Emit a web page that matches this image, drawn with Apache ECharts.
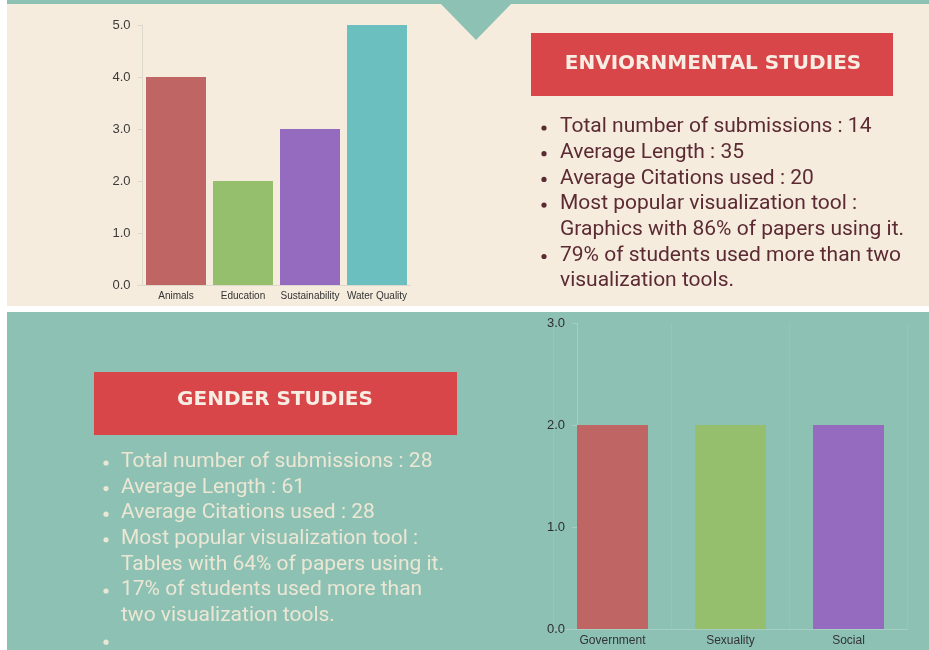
<!DOCTYPE html>
<html>
<head>
<meta charset="utf-8">
<script src="https://cdn.jsdelivr.net/npm/echarts@6/dist/echarts.min.js"></script>
<style>
  html, body { margin: 0; padding: 0; background: #ffffff; }
  #myChart { width: 929px; height: 650px; }
</style>
</head>
<body>
<div id="myChart"></div>
<script>
var envCategories = ['Animals', 'Education', 'Sustainability', 'Water Quality'];
var envValues = [4, 2, 3, 5];
var genderCategories = ['Government', 'Sexuality', 'Social'];
var genderValues = [2, 2, 2];
var barColors = ['#bf6664', '#95bf6c', '#946bbf', '#6cbfbf'];

var envTitle = 'ENVIORNMENTAL STUDIES';
var envFacts = [
    'Total number of submissions : 14',
    'Average Length : 35',
    'Average Citations used : 20',
    'Most popular visualization tool :\nGraphics with 86% of papers using it.',
    '79% of students used more than two\nvisualization tools.'
];
var genderTitle = 'GENDER STUDIES';
var genderFacts = [
    'Total number of submissions : 28',
    'Average Length : 61',
    'Average Citations used : 28',
    'Most popular visualization tool :\nTables with 64% of papers using it.',
    '17% of students used more than\ntwo visualization tools.',
    ''
];

function bulletList(facts, bx, tx, y0, step, color) {
    var out = [];
    var y = y0;
    facts.forEach(function (f) {
        out.push({ type: 'circle', shape: { cx: bx, cy: y + 1, r: 2.6 }, style: { fill: color } });
        f.split('\n').forEach(function (line) {
            out.push({ type: 'text', x: tx, y: y, style: { text: line, fill: color, font: '21px Roboto', textVerticalAlign: 'middle' } });
            y += step;
        });
    });
    return out;
}

var myChart = echarts.init(document.getElementById('myChart'));

var graphics = [
    // backgrounds
    { type: 'rect', z: -10, shape: { x: 7, y: 0, width: 922, height: 4 }, style: { fill: '#8dc1b4' } },
    { type: 'rect', z: -10, shape: { x: 7, y: 4, width: 922, height: 302 }, style: { fill: '#f5ecdd' } },
    { type: 'rect', z: -10, shape: { x: 7, y: 312, width: 922, height: 338 }, style: { fill: '#8dc1b4' } },
    { type: 'polygon', z: -9, shape: { points: [[440, 3], [512, 3], [476, 40]] }, style: { fill: '#8dc1b4' } },
    // title boxes
    { type: 'rect', shape: { x: 531, y: 33, width: 362, height: 63 }, style: { fill: '#d9464a' } },
    { type: 'text', x: 713, y: 64, style: { text: envTitle, fill: '#f7ede2', font: 'bold 20px "DejaVu Sans"', textAlign: 'center', textVerticalAlign: 'middle' } },
    { type: 'rect', shape: { x: 94, y: 372, width: 363, height: 63 }, style: { fill: '#d9464a' } },
    { type: 'text', x: 275, y: 400, style: { text: genderTitle, fill: '#f7ede2', font: 'bold 20px "DejaVu Sans"', textAlign: 'center', textVerticalAlign: 'middle' } }
];
graphics = graphics.concat(bulletList(envFacts, 544, 560, 127, 25.7, '#5b2a33'));
graphics = graphics.concat(bulletList(genderFacts, 106, 121, 462, 25.6, '#ebe7d4'));

var option = {
    animation: false,
    graphic: graphics,
    grid: [
        { left: 142.5, right: 518.5, top: 25, bottom: 365 },
        { left: 553.5, right: 21.5, top: 323, bottom: 21 }
    ],
    xAxis: [
        {
            type: 'category', gridIndex: 0, data: envCategories,
            axisLine: { lineStyle: { color: '#ddd8cc' } },
            axisTick: { show: false },
            axisLabel: { color: '#333', fontSize: 10, fontFamily: 'Liberation Sans', margin: 6, interval: 0, hideOverlap: false }
        },
        {
            type: 'category', gridIndex: 1, data: genderCategories,
            axisLine: { lineStyle: { color: '#a6cfc4' } },
            axisTick: { show: false },
            splitLine: { show: true, lineStyle: { color: 'rgba(255,255,255,0.08)' } },
            axisLabel: { color: '#333', fontSize: 12, fontFamily: 'Liberation Sans', margin: 6, interval: 0 }
        }
    ],
    yAxis: [
        {
            type: 'value', gridIndex: 0, min: 0, max: 5, interval: 1,
            axisLine: { show: true, lineStyle: { color: '#ddd8cc' } },
            axisTick: { show: true, length: 5, lineStyle: { color: '#ddd8cc' } },
            splitLine: { show: false },
            axisLabel: { color: '#3a3a3a', fontSize: 13, fontFamily: 'Liberation Sans', margin: 12, formatter: function (v) { return v.toFixed(1); } }
        },
        {
            type: 'value', gridIndex: 1, min: 0, max: 3, interval: 1, offset: -23.5,
            axisLine: { show: true, lineStyle: { color: '#a6cfc4' } },
            axisTick: { show: true, length: 5, lineStyle: { color: '#a6cfc4' } },
            splitLine: { show: false },
            axisLabel: { color: '#2e2e2e', fontSize: 13, fontFamily: 'Liberation Sans', margin: 12, formatter: function (v) { return v.toFixed(1); } }
        }
    ],
    series: [
        {
            type: 'bar', xAxisIndex: 0, yAxisIndex: 0, barWidth: 60,
            data: envValues.map(function (v, i) { return { value: v, itemStyle: { color: barColors[i] } }; })
        },
        {
            type: 'bar', xAxisIndex: 1, yAxisIndex: 1, barWidth: 71,
            data: genderValues.map(function (v, i) { return { value: v, itemStyle: { color: barColors[i] } }; })
        }
    ]
};

myChart.setOption(option);
</script>
</body>
</html>
